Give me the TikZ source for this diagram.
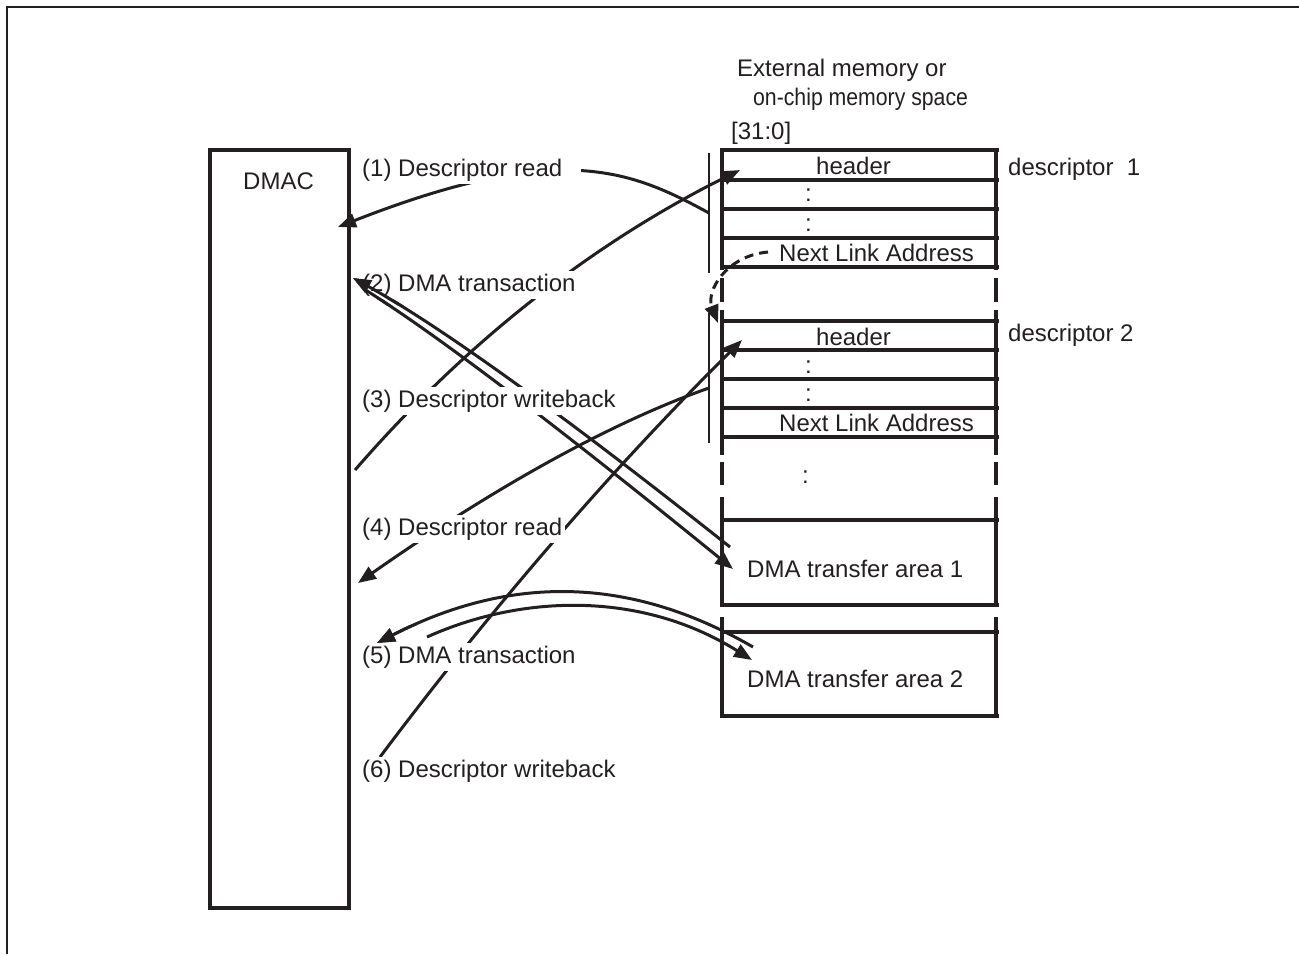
\documentclass[tikz,border=0pt]{standalone}
\usepackage{fontspec}
\setmainfont{Liberation Sans}
\usetikzlibrary{arrows.meta}
\definecolor{ink}{HTML}{231F20}
\begin{document}
\begin{tikzpicture}[x=1pt,y=-1pt,
  every node/.style={text=ink,font=\fontsize{24}{28}\selectfont,inner sep=0pt},
  thickln/.style={draw=ink,line width=3.8pt},
  thinln/.style={draw=ink,line width=1.2pt},
  conn/.style={draw=ink,line width=3pt,-{Triangle[length=18pt,width=14pt]}},
  lbl/.style={anchor=base west,fill=white,inner sep=3pt},
  txt/.style={anchor=base west}]
\useasboundingbox (0,0) rectangle (1299,954);
% outer frame
\draw[ink,line width=2pt] (7,954) -- (7,7) -- (1299,7);
% DMAC
\draw[thickln] (210,150) rectangle (349,908);
\node[txt] (dmac) at (243,189) {DMAC};
% memory column sides
\foreach \xx in {722,996}{
  \draw[thickln] (\xx,150) -- (\xx,270);
  \draw[thickln] (\xx,278) -- (\xx,302);
  \draw[thickln] (\xx,310) -- (\xx,455);
  \draw[thickln] (\xx,462) -- (\xx,485);
  \draw[thickln] (\xx,497) -- (\xx,607);
  \draw[thickln] (\xx,617) -- (\xx,717);
}
\foreach \yy in {150,180,209,238,267,321,350,379,408,437,520,605,632,716}{
  \draw[thickln] (720.1,\yy) -- (999,\yy);
}
% thin brackets
\draw[thinln] (709,153) -- (709,273);
\draw[thinln] (709,313) -- (709,443);
% memory texts
\node[txt] (ext1) at (737,76) {External memory or};
\node[txt,xscale=0.885] (ext2) at (753,105) {on-chip memory space};
\node[txt] (bits) at (731,139) {[31:0]};
\node[txt] (h1) at (816,174) {header};
\node[txt] (c1a) at (805,201) {:};
\node[txt] (c1b) at (805,231) {:};
\node[txt] (nla1) at (779,261) {Next Link Address};
\node[txt] (d1) at (1008,175) {descriptor\ \ 1};
\node[txt] (h2) at (816,345) {header};
\node[txt] (c2a) at (805,373) {:};
\node[txt] (c2b) at (805,401) {:};
\node[txt] (nla2) at (779,431) {Next Link Address};
\node[txt] (d2) at (1008,341) {descriptor 2};
\node[txt] (c3) at (802,483) {:};
\node[txt] (ta1) at (747,577) {DMA transfer area 1};
\node[txt] (ta2) at (747,687) {DMA transfer area 2};
% endpoints
\coordinate (r1s) at (709,213);   \coordinate (r1e) at (338,227);
\coordinate (t2as) at (730,547);  \coordinate (t2ae) at (353,278);
\coordinate (t2bs) at (364,289);  \coordinate (t2be) at (733,569);
\coordinate (w3s) at (355,470);   \coordinate (w3e) at (740,170);
\coordinate (r4s) at (709,388);   \coordinate (r4e) at (358,583);
\coordinate (t5as) at (753,647);  \coordinate (t5ae) at (377,643);
\coordinate (t5bs) at (427,637);  \coordinate (t5be) at (752,660);
\coordinate (w6s) at (380,757);   \coordinate (w6e) at (742,340);
\coordinate (lks) at (768,252);   \coordinate (lke) at (718,323);
% connectors
\draw[conn] (r1s) .. controls (630,170) and (560,140) .. (r1e);
\draw[conn] (t2as) .. controls (565,416) and (440,326) .. (t2ae);
\draw[conn] (t2bs) .. controls (439,336) and (562,430) .. (t2be);
\draw[conn] (w3s) .. controls (465,343) and (593,243) .. (w3e);
\draw[conn] (r4s) .. controls (612,422) and (495,487) .. (r4e);
\draw[conn] (t5as) .. controls (620,570) and (500,580) .. (t5ae);
\draw[conn] (t5bs) .. controls (520,595) and (640,590) .. (t5be);
\draw[conn] (w6s) .. controls (491,609) and (611,470) .. (w6e);
\draw[conn,dash pattern=on 9pt off 6pt] (lks) .. controls (725,256) and (706,292) .. (lke);
% left labels
\node[lbl] (l1) at (359,176) {(1) Descriptor read\hspace*{16pt}};
\node[lbl] (l2) at (359,291) {(2) DMA transaction};
\node[lbl] (l3) at (359,407) {(3) Descriptor writeback};
\node[lbl] (l4) at (359,535) {(4) Descriptor read};
\node[lbl] (l5) at (359,663) {(5) DMA transaction};
\node[lbl] (l6) at (359,777) {(6) Descriptor writeback};
% arrow tips over the labels
\begin{scope}
  \clip (345,262) rectangle (405,305);
  \draw[conn] (t2as) .. controls (565,416) and (440,326) .. (t2ae);
  \draw[conn] (t2bs) .. controls (439,336) and (562,430) .. (t2be);
\end{scope}
\begin{scope}
  \clip (365,625) rectangle (440,660);
  \draw[conn] (t5as) .. controls (620,570) and (500,580) .. (t5ae);
\end{scope}
\end{tikzpicture}
\end{document}
